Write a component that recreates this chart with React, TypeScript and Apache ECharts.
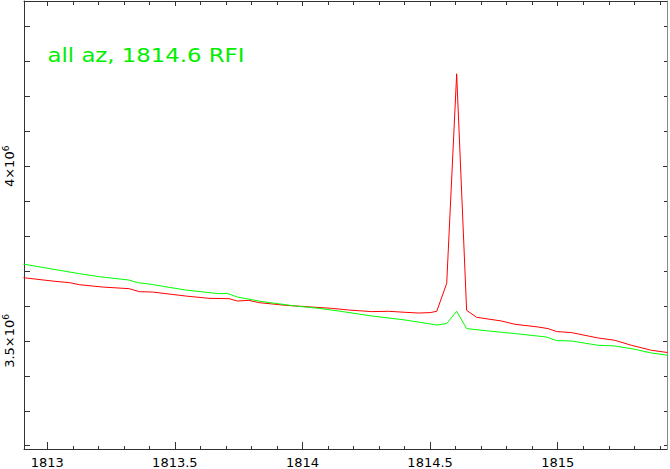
import React, { useEffect, useRef } from "react";
import * as echarts from "echarts";

// Frequency (MHz) and power values
const GREEN_X = [1812.907, 1813.126, 1813.204, 1813.321, 1813.354, 1813.4, 1813.543, 1813.673, 1813.705, 1813.745, 1813.842, 1813.973, 1814.064, 1814.142, 1814.272, 1814.402, 1814.526, 1814.565, 1814.604, 1814.643, 1814.728, 1814.832, 1814.955, 1814.995, 1815.053, 1815.157, 1815.223, 1815.301, 1815.366, 1815.43];
const GREEN_Y = [3.72e6, 3.6926e6, 3.684e6, 3.6743e6, 3.6669e6, 3.6629e6, 3.6457e6, 3.6354e6, 3.6363e6, 3.6257e6, 3.6126e6, 3.6e6, 3.5934e6, 3.5857e6, 3.5714e6, 3.56e6, 3.5457e6, 3.5497e6, 3.5849e6, 3.5354e6, 3.5286e6, 3.5211e6, 3.5114e6, 3.5011e6, 3.5e6, 3.4877e6, 3.4857e6, 3.4763e6, 3.4657e6, 3.4591e6];

const RED_X = [1812.907, 1813.022, 1813.087, 1813.126, 1813.217, 1813.321, 1813.361, 1813.413, 1813.543, 1813.634, 1813.712, 1813.745, 1813.79, 1813.829, 1813.934, 1814.036, 1814.114, 1814.181, 1814.271, 1814.337, 1814.402, 1814.454, 1814.5, 1814.526, 1814.565, 1814.604, 1814.643, 1814.682, 1814.78, 1814.832, 1814.923, 1814.962, 1814.995, 1815.053, 1815.157, 1815.223, 1815.288, 1815.366, 1815.43];
const RED_Y = [3.6811e6, 3.6714e6, 3.6669e6, 3.6611e6, 3.6543e6, 3.6497e6, 3.6411e6, 3.64e6, 3.6286e6, 3.622e6, 3.6211e6, 3.6143e6, 3.6163e6, 3.6097e6, 3.602e6, 3.5971e6, 3.5934e6, 3.5886e6, 3.584e6, 3.5849e6, 3.582e6, 3.58e6, 3.5811e6, 3.5849e6, 3.6649e6, 4.2649e6, 3.5877e6, 3.5677e6, 3.5571e6, 3.5477e6, 3.54e6, 3.5354e6, 3.5269e6, 3.524e6, 3.5086e6, 3.502e6, 3.4877e6, 3.4734e6, 3.4669e6];

const X_MIN = 1812.909;
const X_MAX = 1815.428;
const Y_MIN = 3.1906e6;
const Y_MAX = 4.4734e6;

const X_MAJOR = [1813, 1813.5, 1814, 1814.5, 1815];
const X_MINOR = [1813.1, 1813.2, 1813.3, 1813.4, 1813.6, 1813.7, 1813.8, 1813.9, 1814.1, 1814.2, 1814.3, 1814.4, 1814.6, 1814.7, 1814.8, 1814.9, 1815.1, 1815.2, 1815.3, 1815.4];
const Y_MAJOR = [3.5e6, 4e6];
const Y_MINOR = [3.2e6, 3.3e6, 3.4e6, 3.6e6, 3.7e6, 3.8e6, 3.9e6, 4.1e6, 4.2e6, 4.3e6, 4.4e6];

const TITLE = "all az, 1814.6 RFI";

const AXIS_COLOR = "#333";
const FONT = "DejaVu Sans";

function zip(xs: number[], ys: number[]) {
  return xs.map((x, i) => [x, ys[i]]);
}

export default function App() {
  const ref = useRef<HTMLDivElement>(null);
  useEffect(() => {
    if (!ref.current) return;
    const chart = echarts.init(ref.current, undefined, { renderer: "svg" });
    const lineStyle = { color: AXIS_COLOR, width: 1 };
    const xAxisBase = {
      type: "value" as const,
      min: X_MIN,
      max: X_MAX,
      splitLine: { show: false },
    };
    const yAxisBase = {
      type: "value" as const,
      min: Y_MIN,
      max: Y_MAX,
      splitLine: { show: false },
    };
    chart.setOption({
      animation: false,
      backgroundColor: "#fff",
      grid: { left: 24, top: 1, right: 3, bottom: 19, containLabel: false },
      xAxis: [
        {
          ...xAxisBase,
          position: "bottom",
          axisLine: { show: true, lineStyle },
          axisTick: { show: true, inside: true, length: 7, lineStyle, customValues: X_MAJOR },
          axisLabel: {
            show: true,
            customValues: X_MAJOR,
            color: "#000",
            fontFamily: FONT,
            fontSize: 13,
            margin: 7,
            formatter: (v: number) => String(v),
          },
        },
        {
          ...xAxisBase,
          position: "bottom",
          axisLine: { show: false },
          axisTick: { show: true, inside: true, length: 3, lineStyle, customValues: X_MINOR },
          axisLabel: { show: false },
        },
        {
          ...xAxisBase,
          position: "top",
          axisLine: { show: true, lineStyle },
          axisTick: { show: true, inside: true, length: 5, lineStyle, customValues: X_MAJOR },
          axisLabel: { show: false },
        },
        {
          ...xAxisBase,
          position: "top",
          axisLine: { show: false },
          axisTick: { show: true, inside: true, length: 4, lineStyle, customValues: X_MINOR },
          axisLabel: { show: false },
        },
      ],
      yAxis: [
        {
          ...yAxisBase,
          position: "left",
          axisLine: { show: true, lineStyle },
          axisTick: { show: true, inside: true, length: 6, lineStyle, customValues: Y_MAJOR },
          axisLabel: {
            show: true,
            customValues: Y_MAJOR,
            rotate: 90,
            margin: 7,
            color: "#000",
            fontFamily: FONT,
            fontSize: 13,
            formatter: (v: number) => `${v / 1e6}×10{sup|6}`,
            rich: {
              sup: { fontSize: 9, fontFamily: FONT, color: "#000", verticalAlign: "top", padding: [0, 0, 7, 0] },
            },
          },
        },
        {
          ...yAxisBase,
          position: "left",
          axisLine: { show: false },
          axisTick: { show: true, inside: true, length: 6, lineStyle, customValues: Y_MINOR },
          axisLabel: { show: false },
        },
        {
          ...yAxisBase,
          position: "right",
          axisLine: { show: true, lineStyle: { color: "#888", width: 1 } },
          axisTick: { show: true, inside: true, length: 4, lineStyle, customValues: Y_MAJOR },
          axisLabel: { show: false },
        },
        {
          ...yAxisBase,
          position: "right",
          axisLine: { show: false },
          axisTick: { show: true, inside: true, length: 3, lineStyle, customValues: Y_MINOR },
          axisLabel: { show: false },
        },
      ],
      series: [
        {
          type: "line",
          name: "red",
          xAxisIndex: 0,
          yAxisIndex: 0,
          data: zip(RED_X, RED_Y),
          showSymbol: false,
          symbol: "none",
          lineStyle: { color: "#ff0000", width: 1 },
          itemStyle: { color: "#ff0000" },
        },
        {
          type: "line",
          name: "green",
          xAxisIndex: 0,
          yAxisIndex: 0,
          data: zip(GREEN_X, GREEN_Y),
          showSymbol: false,
          symbol: "none",
          lineStyle: { color: "#00ff00", width: 1 },
          itemStyle: { color: "#00ff00" },
        },
      ],
      graphic: [
        {
          type: "text",
          x: 47.5,
          y: 45,
          scaleX: 1.14,
          scaleY: 1,
          style: {
            text: TITLE,
            fill: "#00ee00",
            font: `20px "${FONT}"`,
          },
        },
      ],
    });
    return () => chart.dispose();
  }, []);
  return (
    <div
      ref={ref}
      style={{ position: "fixed", left: 0, top: 0, width: 670, height: 469, background: "#fff" }}
    />
  );
}
